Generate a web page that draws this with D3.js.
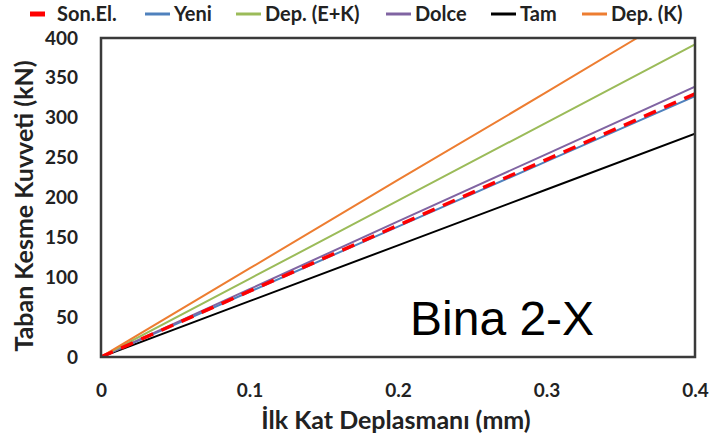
<!DOCTYPE html>
<html>
<head>
<meta charset="utf-8">
<script src="https://cdn.jsdelivr.net/npm/d3@7"></script>
<style>
  html, body { margin: 0; padding: 0; background: #fff; }
  svg { display: block; }
</style>
</head>
<body>
<svg id="chart" width="712" height="442"></svg>
<script>
// Base shear vs. first-storey displacement for building 2, X direction
const xTicks = [0, 0.1, 0.2, 0.3, 0.4];
const yTicks = [0, 50, 100, 150, 200, 250, 300, 350, 400];
const disp = [0, 0.1, 0.2, 0.3, 0.4];
const dispDepK = [0, 0.1, 0.2, 0.3, 0.361];

const sonEl = [0, 82.5, 165, 247.5, 330];
const yeni  = [0, 81.8, 163.5, 245.3, 327];
const depEK = [0, 98, 196, 294, 392];
const dolce = [0, 85, 170, 254.5, 339];
const tam   = [0, 70, 140, 210, 280];
const depK  = [0, 111, 222, 332, 400];

const series = [
  { name: "Son.El.",    xs: disp,     ys: sonEl, color: "#ff0000", width: 3.5, dash: "13,9" },
  { name: "Yeni",       xs: disp,     ys: yeni,  color: "#4f81bd", width: 2 },
  { name: "Dep. (E+K)", xs: disp,     ys: depEK, color: "#9bbb59", width: 2 },
  { name: "Dolce",      xs: disp,     ys: dolce, color: "#8064a2", width: 2 },
  { name: "Tam",        xs: disp,     ys: tam,   color: "#000000", width: 2 },
  { name: "Dep. (K)",   xs: dispDepK, ys: depK,  color: "#ed7d31", width: 2 }
];
// drawing order: red dashed on top of blue/purple
const drawOrder = ["Tam", "Yeni", "Dolce", "Dep. (E+K)", "Dep. (K)", "Son.El."];

const svg = d3.select("#chart");
const margin = { left: 101, right: 17, top: 38, bottom: 85 };
const W = 712, H = 442;

const x = d3.scaleLinear().domain([0, 0.4]).range([margin.left, W - margin.right]);
const y = d3.scaleLinear().domain([0, 400]).range([H - margin.bottom, margin.top]);

const font = "Lato, 'Open Sans', sans-serif";
const ink = "#222";

const line = d3.line().x(d => x(d[0])).y(d => y(d[1]));

svg.append("defs").append("clipPath").attr("id", "plotClip")
  .append("rect")
  .attr("x", x(0)).attr("y", y(400))
  .attr("width", x(0.4) - x(0)).attr("height", y(0) - y(400));

const gLines = svg.append("g").attr("clip-path", "url(#plotClip)");
drawOrder.forEach(n => {
  const s = series.find(d => d.name === n);
  gLines.append("path")
    .attr("d", line(s.xs.map((v, i) => [v, s.ys[i]])))
    .attr("fill", "none")
    .attr("stroke", s.color)
    .attr("stroke-width", s.width)
    .attr("stroke-dasharray", s.dash || null);
});

// plot frame
svg.append("rect")
  .attr("x", x(0)).attr("y", y(400))
  .attr("width", x(0.4) - x(0)).attr("height", y(0) - y(400))
  .attr("fill", "none").attr("stroke", "#3a3a3a").attr("stroke-width", 2.5);

// axes (labels only)
const xAxis = d3.axisBottom(x).tickValues(xTicks).tickSize(0).tickPadding(27)
  .tickFormat(d => d === 0 ? "0" : d3.format(".1f")(d));
const gx = svg.append("g").attr("transform", `translate(0,${y(0)})`).call(xAxis);
gx.select(".domain").remove();
gx.selectAll("text").attr("font-family", font).attr("font-weight", "bold")
  .attr("font-size", 19).attr("fill", ink);

const yAxis = d3.axisLeft(y).tickValues(yTicks).tickSize(0).tickPadding(23);
const gy = svg.append("g").attr("transform", `translate(${x(0)},0)`).call(yAxis);
gy.select(".domain").remove();
gy.selectAll("text").attr("font-family", font).attr("font-weight", "bold")
  .attr("font-size", 19).attr("fill", ink);

// axis titles
svg.append("text")
  .attr("x", 396).attr("y", 429)
  .attr("text-anchor", "middle")
  .attr("font-family", font).attr("font-weight", "bold").attr("font-size", 25)
  .attr("fill", ink)
  .text("İlk Kat Deplasmanı (mm)");

svg.append("text")
  .attr("transform", "translate(24,206) rotate(-90)")
  .attr("text-anchor", "middle").attr("dy", "0.35em")
  .attr("font-family", font).attr("font-weight", "bold").attr("font-size", 25)
  .attr("fill", ink)
  .text("Taban Kesme Kuvveti (kN)");

// annotation
svg.append("text")
  .attr("x", 410).attr("y", 335)
  .attr("font-family", "'Liberation Sans', Arial, sans-serif")
  .attr("font-size", 48).attr("fill", "#000")
  .text("Bina 2-X");

// legend
const legendX = [30, 145, 236, 386, 491, 582];
const gLeg = svg.append("g");
series.forEach((s, i) => {
  const g = gLeg.append("g").attr("transform", `translate(${legendX[i]},14)`);
  if (s.dash) {
    g.append("line").attr("x1", 0).attr("x2", 15).attr("y1", 0).attr("y2", 0)
      .attr("stroke", s.color).attr("stroke-width", 5);
  } else {
    g.append("line").attr("x1", 0).attr("x2", 25).attr("y1", 0).attr("y2", 0)
      .attr("stroke", s.color).attr("stroke-width", 3);
  }
  g.append("text")
    .attr("x", s.dash ? 27 : 29).attr("y", 0).attr("dy", "0.35em")
    .attr("font-family", font).attr("font-weight", "bold").attr("font-size", 20)
    .attr("fill", ink)
    .text(s.name);
});
</script>
</body>
</html>
